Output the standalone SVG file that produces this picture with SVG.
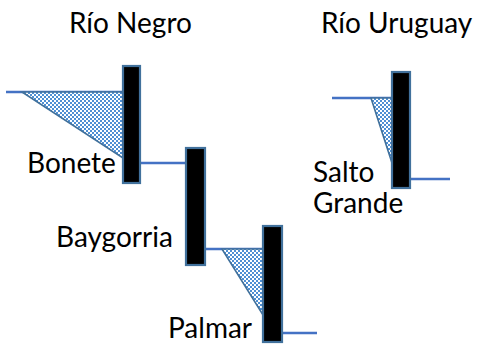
<svg xmlns="http://www.w3.org/2000/svg" width="481" height="354" viewBox="0 0 481 354">
  <style>
    .lbl { font-family: Lato, "Open Sans", "Liberation Sans", sans-serif; font-size: 28px; fill: #000; }
    .dam { fill: #000; stroke: #41719C; stroke-width: 2.2; }
    .pool { fill: url(#checker); stroke: #41719C; stroke-width: 1.6; stroke-linejoin: miter; }
    .river { fill: none; stroke: #4472C4; stroke-width: 2.5; }
    .cell { fill: #4F8FD3; shape-rendering: crispEdges; }
  </style>
  <defs>
    <pattern id="checker" width="4" height="4" patternUnits="userSpaceOnUse">
      <rect width="4" height="4" fill="#ffffff" shape-rendering="crispEdges"/>
      <rect class="cell" width="2" height="2"/>
      <rect class="cell" x="2" y="2" width="2" height="2"/>
    </pattern>
  </defs>
  <rect width="481" height="354" fill="#ffffff"/>

  <text class="lbl" x="69" y="33">Río Negro</text>
  <text class="lbl" x="321" y="33">Río Uruguay</text>

  <!-- river reaches between the dams -->
  <g id="connectors">
    <line class="river" x1="6" y1="92" x2="123" y2="92"/>
    <line class="river" x1="140" y1="163" x2="186" y2="163"/>
    <line class="river" x1="205" y1="249" x2="263" y2="249"/>
    <line class="river" x1="282" y1="333" x2="317" y2="333"/>
    <line class="river" x1="332" y1="98" x2="392" y2="98"/>
    <line class="river" x1="410" y1="179" x2="450" y2="179"/>
  </g>

  <g id="bonete">
    <polygon class="pool" points="22,92 123,92 123,158"/>
    <rect class="dam" x="123" y="66" width="17" height="117"/>
    <text class="lbl" x="27" y="173">Bonete</text>
  </g>

  <g id="baygorria">
    <rect class="dam" x="186" y="148" width="19" height="117"/>
    <text class="lbl" x="56" y="247">Baygorria</text>
  </g>

  <g id="palmar">
    <polygon class="pool" points="222,249 263,249 263,315"/>
    <rect class="dam" x="263" y="226" width="19" height="116"/>
    <text class="lbl" x="168" y="338">Palmar</text>
  </g>

  <g id="salto-grande">
    <polygon class="pool" points="371,98 392,98 392,163"/>
    <rect class="dam" x="392" y="72" width="18" height="116"/>
    <text class="lbl" x="313" y="182">Salto</text>
    <text class="lbl" x="313" y="213">Grande</text>
  </g>
</svg>
